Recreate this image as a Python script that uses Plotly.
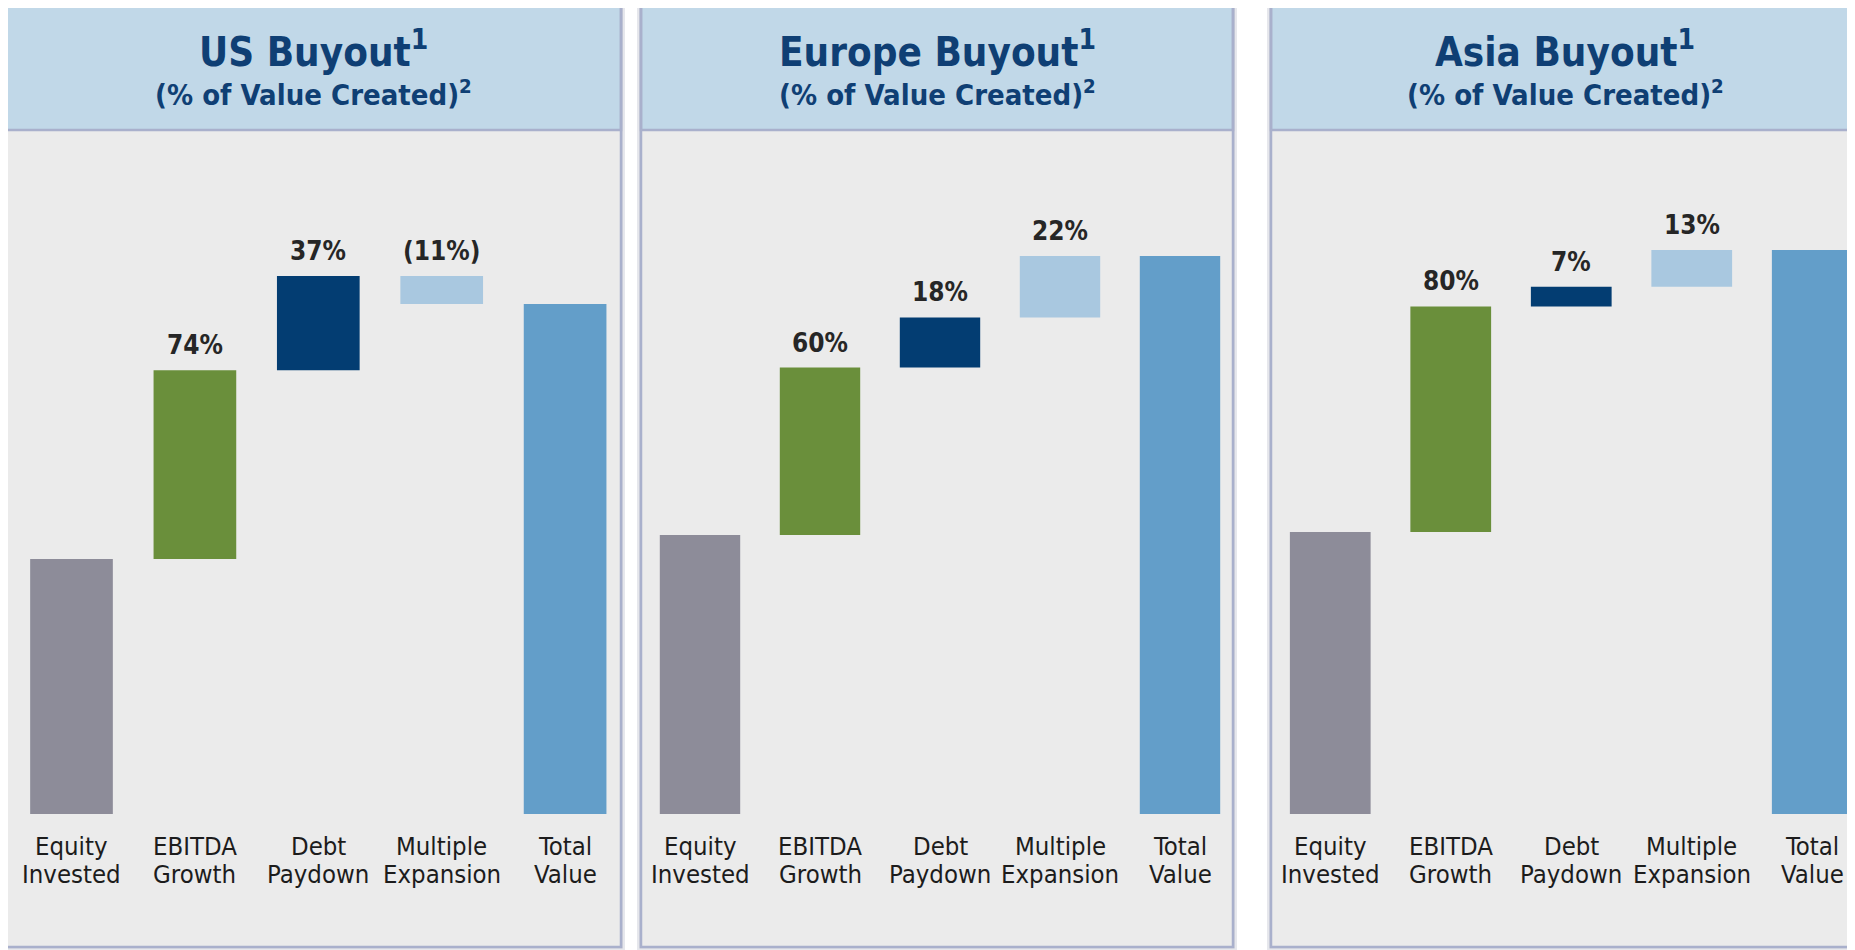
import plotly.graph_objects as go

# ---------------- data ----------------
categories = ["Equity Invested", "EBITDA Growth", "Debt Paydown",
              "Multiple Expansion", "Total Value"]
panel_titles = ["US Buyout", "Europe Buyout", "Asia Buyout"]
equity_invested = [100, 100, 100]          # equity invested = 100 (value created equals equity)
ebitda_growth = [74, 60, 80]               # % of value created
debt_paydown = [37, 18, 7]
multiple_expansion = [-11, 22, 13]

bar_colors = ["#8D8C99", "#6A8F3B", "#033D72", "#A9C8E0", "#639EC9"]

# ---------------- layout geometry (page pixels) ----------------
W, H = 1855, 950
OFF = 8  # default page body margin of the html page
FONT = "DejaVu Sans Condensed, DejaVu Sans, sans-serif"
TITLE_COLOR = "#0F3F74"
TEXT_COLOR = "#262626"

panels = [
    dict(left=6, right=621, dom0=9.8, pitch=123.4, px_per_unit=2.55),
    dict(left=641, right=1233, dom0=640, pitch=120.0, px_per_unit=2.79),
    dict(left=1271, right=1870, dom0=1270, pitch=120.5, px_per_unit=2.82),
]
PLOT_BOTTOM, PLOT_TOP = 814, 140
HEAD_TOP, HEAD_BOT, PANEL_BOT = 6, 130, 947


def px(x):
    return (x - OFF) / W


def py(y):
    return 1 - (y - OFF) / H


fig = go.Figure()
shapes, annotations = [], []

for i, p in enumerate(panels):
    ax = "" if i == 0 else str(i + 1)
    eq = equity_invested[i]
    steps = [ebitda_growth[i], debt_paydown[i], multiple_expansion[i]]
    total = eq + sum(steps)
    values, bases = [eq], [0]
    run = eq
    for s in steps:
        values.append(s)
        bases.append(run)
        run += s
    values.append(total)
    bases.append(0)

    fig.add_trace(go.Bar(
        x=categories, y=values, base=bases,
        marker=dict(color=bar_colors, line=dict(width=0)),
        xaxis="x" + ax, yaxis="y" + ax, showlegend=False, hoverinfo="skip",
    ))

    # labels above the step bars
    for k in range(1, 4):
        v = values[k]
        top = max(bases[k], bases[k] + v)
        txt = f"{v}%" if v >= 0 else f"({abs(v)}%)"
        annotations.append(dict(
            x=categories[k], y=top, xref="x" + ax, yref="y" + ax,
            text=txt, showarrow=False, yanchor="bottom", yshift=8,
            font=dict(family=FONT, size=26, color=TEXT_COLOR, weight="bold"),
        ))

    # two-line category labels under the bars
    for cat in categories:
        first, second = cat.split(" ", 1)
        for line, shift in ((first, -31.5), (second, -59.5)):
            annotations.append(dict(
                x=cat, y=0, xref="x" + ax, yref="y" + ax, text=line,
                showarrow=False, xanchor="center", yanchor="middle", yshift=shift,
                font=dict(family=FONT, size=25.5, color="#1C1C1C"),
            ))

    dom0_fig = p["dom0"] - OFF
    dom1_fig = min(dom0_fig + 5 * p["pitch"], W)
    rng_end = (dom1_fig - dom0_fig) / p["pitch"] - 0.5
    ymax = (PLOT_BOTTOM - PLOT_TOP) / p["px_per_unit"]
    fig.update_layout(**{
        "xaxis" + ax: dict(
            domain=[dom0_fig / W, dom1_fig / W], range=[-0.5, rng_end],
            anchor="y" + ax, showgrid=False, zeroline=False, showline=False,
            ticks="", showticklabels=False, fixedrange=True,
        ),
        "yaxis" + ax: dict(
            domain=[py(PLOT_BOTTOM), py(PLOT_TOP)], range=[0, ymax],
            anchor="x" + ax, visible=False, fixedrange=True,
        ),
    })

    # soft shadow, panel body, header and border
    shapes.append(dict(type="rect", xref="paper", yref="paper", layer="below",
                       x0=px(p["left"] - 4), x1=px(p["right"] + 4),
                       y0=py(PANEL_BOT + 3), y1=py(HEAD_TOP - 3),
                       fillcolor="#E6E7EC", line=dict(width=0)))
    shapes.append(dict(type="rect", xref="paper", yref="paper", layer="below",
                       x0=px(p["left"] - 2), x1=px(p["right"] + 2),
                       y0=py(PANEL_BOT + 1.5), y1=py(HEAD_TOP - 1.5),
                       fillcolor="#D3D5DE", line=dict(width=0)))
    shapes.append(dict(type="rect", xref="paper", yref="paper", layer="below",
                       x0=px(p["left"]), x1=px(p["right"]), y0=py(PANEL_BOT), y1=py(HEAD_BOT),
                       fillcolor="#EBEBEB", line=dict(width=0)))
    shapes.append(dict(type="rect", xref="paper", yref="paper", layer="below",
                       x0=px(p["left"]), x1=px(p["right"]), y0=py(HEAD_BOT), y1=py(HEAD_TOP),
                       fillcolor="#C1D8E8", line=dict(color="#A9B0CC", width=2.5)))
    shapes.append(dict(type="rect", xref="paper", yref="paper", layer="above",
                       x0=px(p["left"]), x1=px(p["right"]), y0=py(PANEL_BOT), y1=py(HEAD_TOP),
                       fillcolor="rgba(0,0,0,0)", line=dict(color="#A9B0CC", width=2.5)))

    cx = px((p["left"] + p["right"]) / 2)
    if i == 2:
        cx = px(1565)
    annotations.append(dict(
        x=cx, y=py(49), xref="paper", yref="paper", showarrow=False,
        text=f"{panel_titles[i]}<sup>1</sup>", xanchor="center", yanchor="middle",
        font=dict(family=FONT, size=40, color=TITLE_COLOR, weight="bold"),
    ))
    annotations.append(dict(
        x=cx, y=py(93), xref="paper", yref="paper", showarrow=False,
        text="(% of Value Created)<sup>2</sup>", xanchor="center", yanchor="middle",
        font=dict(family=FONT, size=29, color=TITLE_COLOR, weight="bold"),
    ))

fig.update_layout(
    width=W, height=H, margin=dict(l=0, r=0, t=0, b=0),
    paper_bgcolor="white", plot_bgcolor="rgba(0,0,0,0)",
    bargap=0.33, shapes=shapes, annotations=annotations,
    font=dict(family=FONT, color=TEXT_COLOR),
)

fig.write_html("out.html")
